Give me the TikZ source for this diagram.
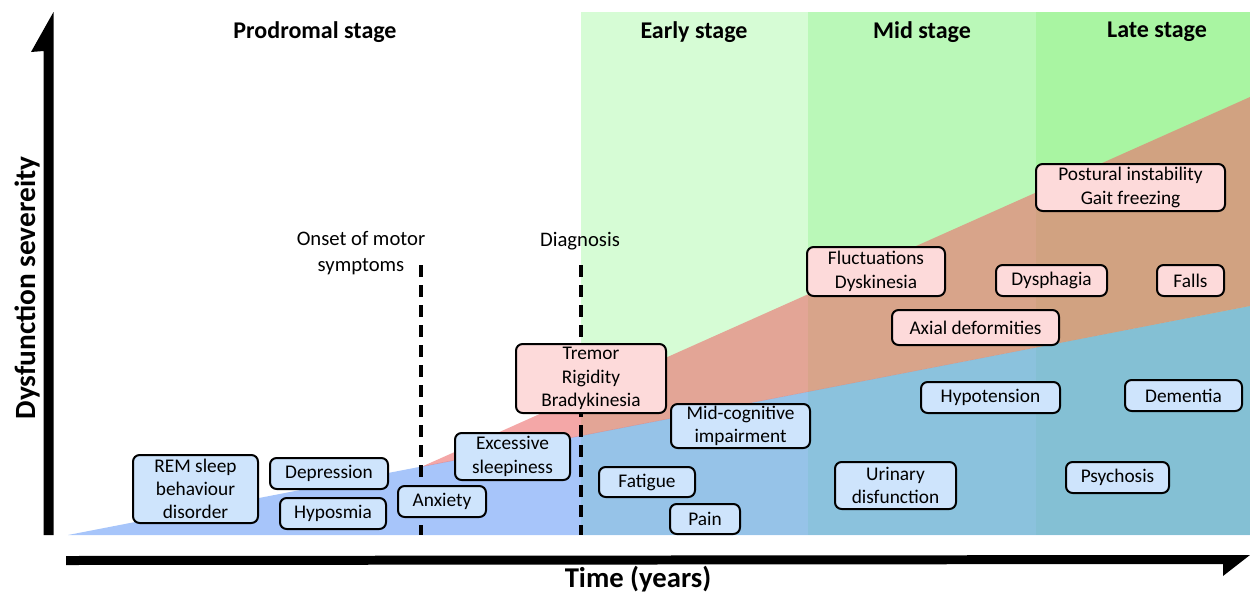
\documentclass[tikz,border=0pt]{standalone}
\usepackage{fontspec}
\setmainfont{Carlito}
\definecolor{earlygreen}{RGB}{214,252,213}
\definecolor{midgreen}{RGB}{186,248,184}
\definecolor{lategreen}{RGB}{169,245,162}
\definecolor{areablue}{RGB}{108,158,246}
\definecolor{areared}{RGB}{236,108,108}
\definecolor{boxblue}{RGB}{206,228,252}
\definecolor{boxred}{RGB}{253,218,218}
\begin{document}
\begin{tikzpicture}[x=0.75pt,y=-0.75pt,
	nonmotor/.style={draw=black,line width=1.5pt,rounded corners=5pt,fill=boxblue,
		align=center,inner sep=0pt,font=\fontsize{14.5}{17.5}\selectfont},
	motor/.style={nonmotor,fill=boxred},
	stagelabel/.style={font=\fontsize{18}{22}\selectfont\bfseries},
	marker/.style={line width=3pt,dash pattern=on 9pt off 6pt}]
	\useasboundingbox (0,0) rectangle (1250,594);

	% stages
	\fill[earlygreen](581,12) rectangle (808,535);
	\fill[midgreen](808,12) rectangle (1036,535);
	\fill[lategreen](1036,12) rectangle (1250,535);
	\foreach \x/\name/\txt in {315/prod/Prodromal stage,694/early/Early stage,922/mid/Mid stage,1157/late/Late stage} {
	     \node[stagelabel] (\name) at (\x,32) {\txt};
	}

	% non-motor and motor areas
	\fill[areablue,opacity=0.6](68,535) -- (1250,306) -- (1250,535) -- cycle;
	\fill[areared,opacity=0.6](421,467) -- (1250,97) -- (1250,306) -- cycle;

	% axes
	\fill(43.5,535) -- (43.5,51) -- (31,52) -- (53.5,12) -- (53.5,535) -- cycle;
	\fill(66,556) -- (1250,555) -- (1223,576) -- (1223,564) -- (66,565) -- cycle;
	\node[rotate=90,font=\fontsize{22}{26}\selectfont\bfseries] (yaxis) at (27,288) {Dysfunction severeity};
	\node[font=\fontsize{21.5}{26}\selectfont\bfseries] (xaxis) at (638,579) {Time (years)};

	% onset and diagnosis
	\coordinate (onsettop) at (421,265);
	\coordinate (onsetbot) at (421,535);
	\coordinate (diagtop) at (581,265);
	\coordinate (diagbot) at (581,535);
	\draw[marker](onsettop) -- (onsetbot);
	\draw[marker](diagtop) -- (diagbot);
	\node[align=center,font=\fontsize{15.5}{19.5}\selectfont] (onset) at (361,253) {Onset of motor\\symptoms};
	\node[font=\fontsize{15.5}{19.5}\selectfont] (diag) at (580,241) {Diagnosis};

	% symptoms
	\node[nonmotor,minimum width=93.75pt,minimum height=51pt] (rem) at (195.5,489) {REM sleep\\behaviour\\disorder};
	\node[nonmotor,minimum width=88.5pt,minimum height=23.25pt] (depr) at (329,473.5) {Depression};
	\node[nonmotor,minimum width=79.5pt,minimum height=23.25pt] (hyposm) at (333,513.5) {Hyposmia};
	\node[nonmotor,minimum width=66pt,minimum height=23.25pt] (anx) at (442,501.5) {Anxiety};
	\node[nonmotor,minimum width=86.25pt,minimum height=35.25pt] (sleep) at (512.5,456.5) {Excessive\\sleepiness};
	\node[motor,minimum width=112.5pt,minimum height=51.75pt] (tremor) at (591,378.5) {Tremor\\Rigidity\\Bradykinesia};
	\node[nonmotor,minimum width=104.25pt,minimum height=33pt] (cogn) at (740.5,426) {Mid-cognitive\\impairment};
	\node[nonmotor,minimum width=72pt,minimum height=22.5pt] (fatigue) at (647,482) {Fatigue};
	\node[nonmotor,minimum width=52.5pt,minimum height=22.5pt] (pain) at (705,519) {Pain};
	\node[motor,minimum width=103.5pt,minimum height=36.75pt] (fluct) at (876,271.5) {Fluctuations\\Dyskinesia};
	\node[motor,minimum width=141.75pt,minimum height=35.25pt] (postural) at (1130.5,187.5) {Postural instability\\Gait freezing};
	\node[motor,minimum width=83.25pt,minimum height=23.25pt] (dysph) at (1051.5,280.5) {Dysphagia};
	\node[motor,minimum width=50.25pt,minimum height=23.25pt] (falls) at (1190.5,280.5) {Falls};
	\node[motor,minimum width=125.25pt,minimum height=26.25pt] (axial) at (975.5,327.5) {Axial deformities};
	\node[nonmotor,minimum width=104.25pt,minimum height=23.25pt] (hypot) at (990.5,397.5) {Hypotension};
	\node[nonmotor,minimum width=87.75pt,minimum height=23.25pt] (dement) at (1183.5,395.5) {Dementia};
	\node[nonmotor,minimum width=90.75pt,minimum height=35.25pt] (urin) at (895.5,485.5) {Urinary\\disfunction};
	\node[nonmotor,minimum width=77.25pt,minimum height=23.25pt] (psych) at (1117.5,477.5) {Psychosis};
\end{tikzpicture}
\end{document}
